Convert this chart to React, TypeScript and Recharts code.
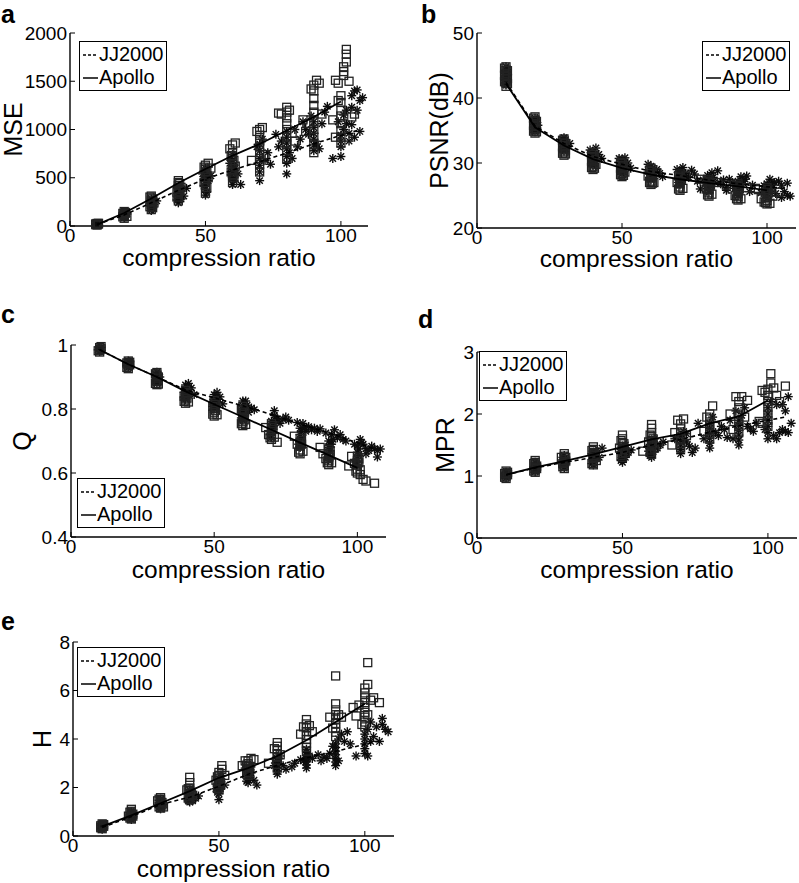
import { ScatterChart, Scatter, XAxis, YAxis, Legend } from "recharts";

type Pt = [number, number];

const FONT = '"Liberation Sans", Arial, Helvetica, sans-serif';

// shared axis values
const ratioDomain: [number, number] = [0, 110];
const ratioTicks = [0, 50, 100];
const seriesNames = ["JJ2000", "Apollo"];

// x positions of the mean curves
const apolloMeanRatio = [10, 20, 30, 40, 50, 60, 70, 80, 90, 100];
const jjMeanRatio = [10, 20, 30, 40, 50, 60, 71, 81, 92, 106];

// ---------- a: MSE ----------
const mseAxis = { domain: [0, 2000] as [number, number], ticks: [0, 500, 1000, 1500, 2000] };
const apolloMeanMSE = [15, 135, 285, 445, 590, 730, 850, 990, 1130, 1290];
const jjMeanMSE = [15, 115, 240, 370, 490, 580, 675, 765, 870, 990];
const apolloMSE: Pt[] = [
  [10, 10], [10, 18], [10, 26], [10.5, 20], [9.5, 14], [10.5, 28], [9.5, 22],
  [20, 80], [20, 110], [20, 130], [20, 150], [21, 100], [19.5, 95], [20.5, 140], [20, 120], [19.5, 130],
  [30, 170], [30, 220], [30, 260], [30, 290], [30, 310], [31, 240], [29.5, 200], [30.5, 280], [29.5, 300], [30.5, 190],
  [40, 260], [40, 330], [40, 380], [40, 420], [40, 450], [41, 400], [40, 470], [39.5, 350], [40.5, 440], [39.5, 300], [40.5, 360],
  [50, 340], [50, 420], [50, 480], [50, 540], [50, 590], [50, 630], [51, 650], [52, 600], [51, 500], [49.5, 450], [50.5, 560], [49.5, 610], [50.5, 400],
  [60, 450], [60, 520], [60, 580], [60, 640], [60, 700], [60, 760], [59, 800], [60, 840], [61, 860], [61, 620], [59.5, 560], [60.5, 680], [59.5, 730], [60.5, 500],
  [70, 560], [70, 640], [70, 700], [70, 760], [70, 820], [70, 880], [70, 940], [70, 1000], [71, 1020], [69, 980], [67, 680], [72, 740],
  [80, 700], [80, 780], [80, 850], [80, 920], [80, 1000], [80, 1060], [80, 1120], [80, 1180], [80, 1230], [78, 1160], [77, 1170], [81, 1200], [82, 960], [83, 880],
  [90, 760], [90, 850], [90, 920], [90, 1000], [90, 1080], [90, 1180], [90, 1250], [90, 1320], [90, 1400], [90, 1460], [91, 1510], [89, 1420], [92, 1480], [88, 1060], [86, 1100], [93, 1160], [87, 980],
  [100, 860], [100, 920], [100, 990], [100, 1060], [100, 1140], [100, 1200], [100, 1280], [100, 1350], [101, 1600], [101, 1650], [102, 1700], [102, 1780], [102, 1830], [101, 1560], [103, 1500], [98, 1510], [99, 1480], [97, 1100], [104, 1130], [105, 1160], [99, 1300], [98, 920],
];
const jjMSE: Pt[] = [
  [10, 15], [10, 22], [10.5, 18], [9.5, 20],
  [20, 85], [20, 110], [20, 140], [21, 125], [20.5, 95], [19.5, 120],
  [30, 160], [30, 200], [30, 240], [30, 280], [31, 220], [32, 260], [30.5, 180], [29.5, 230], [30.5, 270],
  [40, 240], [40, 290], [40, 340], [40, 380], [40, 420], [41, 360], [42, 310], [43, 390], [39.5, 270], [40.5, 320], [39.5, 400], [41, 280],
  [50, 320], [50, 380], [50, 440], [50, 500], [50, 560], [50, 600], [51, 470], [52, 520], [49, 540], [50.5, 350], [49.5, 420], [50.5, 530], [49.5, 480],
  [60, 430], [60, 500], [60, 560], [60, 620], [60, 680], [60, 740], [61, 600], [62, 540], [63, 430], [59, 650], [60.5, 470], [59.5, 530], [60.5, 590], [59.5, 700],
  [70, 470], [70, 560], [70, 630], [70, 700], [70, 780], [70, 850], [71, 900], [72, 680], [73, 760], [74, 640], [69, 820],
  [80, 540], [80, 650], [80, 720], [80, 800], [80, 860], [80, 920], [80, 980], [81, 760], [82, 700], [76, 950], [78, 880], [84, 820], [85, 900], [77, 820], [83, 1000],
  [90, 780], [90, 840], [90, 900], [90, 960], [90, 1020], [90, 1080], [91, 850], [92, 800], [88, 950], [86, 1080], [87, 1000], [93, 1060], [94, 1180], [89, 1140], [95, 1240],
  [97, 700], [100, 720], [100, 820], [100, 880], [100, 940], [101, 1000], [102, 1060], [101, 1150], [103, 960], [104, 1230], [104, 1350], [105, 1400], [106, 1410], [107, 1300], [108, 1330], [106, 1200], [107, 980], [105, 920], [103, 880], [99, 1080], [102, 1200], [104, 1050],
];

// ---------- b: PSNR ----------
const psnrAxis = { domain: [20, 50] as [number, number], ticks: [20, 30, 40, 50] };
const apolloMeanPSNR = [42.2, 35.5, 32.7, 30.6, 29.2, 28.2, 27.5, 26.9, 26.4, 25.8];
const jjMeanPSNR = [42.4, 35.7, 33.0, 31.0, 29.8, 28.7, 28.0, 27.3, 26.7, 26.1];
const apolloPSNR: Pt[] = [
  [10, 41.8], [10, 42.3], [10, 42.8], [10, 43.3], [10, 43.8], [10, 44.3], [10, 44.8], [10.5, 43], [9.5, 42.5], [9.5, 43.5], [10.5, 44.2], [9.5, 44.6], [10.5, 42.2],
  [20, 34.6], [20, 35.1], [20, 35.6], [20, 36.1], [20, 36.6], [20, 37.1], [20.5, 35.3], [19.5, 35.8], [19.5, 34.9], [20.5, 36.4], [19.5, 36.9], [20.5, 34.8],
  [30, 31.2], [30, 31.7], [30, 32.2], [30, 32.7], [30, 33.2], [30, 33.7], [30.5, 32.0], [29.5, 32.5], [29.5, 31.5], [30.5, 33.0], [29.5, 33.5], [30.5, 31.4],
  [40, 29.0], [40, 29.5], [40, 30.0], [40, 30.5], [40, 31.0], [40, 31.6], [41, 29.8], [39.5, 30.3], [39.5, 29.3], [40.5, 30.8], [39.5, 31.3], [40.5, 29.2],
  [50, 27.9], [50, 28.4], [50, 28.9], [50, 29.4], [50, 29.9], [50, 30.4], [51, 28.6], [49.5, 29.2], [49.5, 28.2], [50.5, 29.6], [49.5, 30.1], [50.5, 28.1],
  [60, 26.7], [60, 27.2], [60, 27.7], [60, 28.2], [60, 28.7], [60, 29.2], [61, 27.0], [59, 28.0], [62, 28.5], [59.5, 27.0], [60.5, 28.4], [59.5, 28.9], [60.5, 26.9],
  [70, 25.8], [70, 26.3], [70, 26.8], [70, 27.3], [70, 27.8], [70, 28.3], [71, 26.1], [69, 27.0], [72, 28.0], [69.5, 26.0], [70.5, 27.5], [69.5, 28.0],
  [80, 24.9], [80, 25.4], [80, 25.9], [80, 26.4], [80, 26.9], [80, 27.4], [79, 26.0], [81, 25.2], [77, 27.5], [83, 27.0], [86, 26.6], [79.5, 25.1], [80.5, 26.6], [79.5, 27.1],
  [90, 24.3], [90, 24.8], [90, 25.3], [90, 25.8], [90, 26.3], [90, 26.8], [89, 25.0], [91, 24.5], [88, 26.0], [93, 26.2], [96, 26.1], [89.5, 24.5], [90.5, 26.0], [89.5, 26.5],
  [100, 23.7], [100, 24.2], [100, 24.7], [100, 25.2], [100, 25.7], [100, 26.2], [99, 24.0], [101, 23.8], [98, 24.5], [97, 25.9], [102, 24.9], [104, 25.5], [99.5, 23.9], [100.5, 25.4], [99.5, 25.9],
];
const jjPSNR: Pt[] = [
  [10, 42.0], [10, 42.7], [10, 43.4], [10, 44.1], [10, 44.8], [9.5, 42.3], [10.5, 43.0], [9.5, 43.8], [10.5, 44.4],
  [20, 34.8], [20, 35.5], [20, 36.2], [20, 36.9], [21, 35.8], [19.5, 36.4], [19.5, 35.1], [20.5, 35.2], [20.5, 36.6], [19.5, 35.9],
  [30, 31.8], [30, 32.5], [30, 33.2], [30, 33.9], [31, 32.8], [29.5, 33.6], [32, 33.0], [29.5, 32.1], [30.5, 32.2], [30.5, 33.6], [29.5, 32.9],
  [40, 29.6], [40, 30.3], [40, 31.0], [40, 31.7], [41, 30.6], [42, 31.3], [43, 30.7], [39, 32.0], [41, 32.3], [39.5, 30.0], [40.5, 29.9], [40.5, 31.3], [39.5, 30.7],
  [50, 28.3], [50, 29.0], [50, 29.7], [50, 30.4], [51, 29.4], [52, 30.0], [49, 30.7], [51, 30.8], [53, 29.2], [49.5, 28.7], [50.5, 28.6], [50.5, 30.1], [49.5, 29.4],
  [60, 27.4], [60, 28.1], [60, 28.8], [60, 29.5], [61, 28.4], [62, 29.0], [59, 29.8], [63, 28.4], [64, 27.9], [59.5, 27.8], [60.5, 27.7], [60.5, 29.2], [59.5, 28.5],
  [70, 26.6], [70, 27.3], [70, 28.0], [70, 28.7], [71, 29.3], [72, 28.4], [73, 27.8], [74, 28.9], [75, 28.3], [69, 29.0], [69.5, 27.0], [70.5, 27.6], [70.5, 28.9], [71.5, 28.0],
  [78, 27.4], [79, 26.5], [80, 25.5], [80, 26.2], [80, 27.0], [80, 27.7], [81, 28.5], [82, 27.0], [83, 28.8], [84, 26.8], [85, 27.4], [86, 26.2], [77, 26.0], [76, 27.2], [80.5, 26.6], [79.5, 27.3], [81.5, 27.8], [79.5, 28.1],
  [88, 27.0], [89, 26.1], [90, 25.0], [90, 25.7], [90, 26.4], [90, 27.2], [91, 27.9], [92, 26.8], [93, 28.0], [94, 25.6], [95, 26.6], [87, 27.5], [86, 25.8], [90.5, 26.0], [89.5, 26.8], [91.5, 27.2], [92.5, 27.5],
  [98, 25.4], [99, 26.5], [100, 24.6], [100, 25.3], [100, 26.0], [100, 26.8], [101, 27.5], [102, 26.2], [103, 25.3], [104, 27.2], [105, 26.6], [106, 25.6], [107, 26.9], [108, 24.9], [107, 25.0], [105, 24.7], [100.5, 25.7], [99.5, 26.3], [101.5, 26.9], [102.5, 27.0],
];

// ---------- c: Q ----------
const qAxis = { domain: [0.4, 1] as [number, number], ticks: [0.4, 0.6, 0.8, 1] };
const apolloMeanQ = [0.985, 0.94, 0.9, 0.855, 0.815, 0.775, 0.735, 0.695, 0.656, 0.616];
const jjMeanQ = [0.985, 0.94, 0.9, 0.86, 0.835, 0.81, 0.78, 0.75, 0.72, 0.675];
const apolloQ: Pt[] = [
  [10, 0.978], [10, 0.985], [10, 0.992], [10.5, 0.988], [9.5, 0.982], [10.5, 0.995],
  [20, 0.926], [20, 0.934], [20, 0.942], [20, 0.95], [20.5, 0.938], [19.5, 0.93], [20.5, 0.946], [19.5, 0.944],
  [30, 0.876], [30, 0.886], [30, 0.896], [30, 0.906], [30, 0.914], [30.5, 0.89], [29.5, 0.88], [30.5, 0.9], [29.5, 0.91], [30.5, 0.878],
  [40, 0.818], [40, 0.828], [40, 0.838], [40, 0.848], [40, 0.858], [41, 0.822], [39.5, 0.84], [39.5, 0.824], [40.5, 0.834], [40.5, 0.852],
  [50, 0.778], [50, 0.79], [50, 0.802], [50, 0.814], [50, 0.826], [51, 0.782], [49.5, 0.808], [49.5, 0.784], [50.5, 0.796], [50.5, 0.82],
  [60, 0.748], [60, 0.76], [60, 0.772], [60, 0.784], [60, 0.796], [60, 0.808], [61, 0.752], [59.5, 0.754], [60.5, 0.766], [60.5, 0.79], [59.5, 0.8],
  [70, 0.705], [70, 0.718], [70, 0.73], [70, 0.742], [70, 0.754], [68, 0.742], [72, 0.696], [69, 0.72], [71, 0.712], [69.5, 0.71], [70.5, 0.736], [70.5, 0.748],
  [80, 0.66], [80, 0.672], [80, 0.684], [80, 0.696], [80, 0.708], [78, 0.715], [81, 0.668], [79, 0.69], [79.5, 0.665], [80.5, 0.69], [80.5, 0.702],
  [90, 0.626], [90, 0.638], [90, 0.65], [90, 0.662], [90, 0.674], [87, 0.68], [88, 0.66], [91, 0.632], [89, 0.645], [89.5, 0.632], [90.5, 0.656], [90.5, 0.668],
  [100, 0.6], [100, 0.612], [100, 0.625], [100, 0.638], [100, 0.65], [97, 0.622], [98, 0.652], [99, 0.63], [101, 0.595], [102, 0.58], [103, 0.575], [106, 0.568], [101, 0.61], [99.5, 0.606], [100.5, 0.632], [100.5, 0.644],
];
const jjQ: Pt[] = [
  [10, 0.98], [10, 0.99], [9.5, 0.985], [10.5, 0.982], [10.5, 0.993],
  [20, 0.93], [20, 0.942], [20, 0.95], [19.5, 0.936], [20.5, 0.936], [20.5, 0.948], [19.5, 0.945],
  [30, 0.88], [30, 0.893], [30, 0.906], [30, 0.915], [31, 0.9], [29.5, 0.886], [30.5, 0.886], [30.5, 0.9], [29.5, 0.91], [29.5, 0.898],
  [40, 0.83], [40, 0.845], [40, 0.86], [40, 0.875], [41, 0.852], [42, 0.866], [43, 0.845], [41, 0.88], [39.5, 0.838], [40.5, 0.838], [40.5, 0.868], [39.5, 0.852], [41.5, 0.86],
  [50, 0.8], [50, 0.815], [50, 0.83], [50, 0.845], [51, 0.822], [52, 0.838], [53, 0.816], [51, 0.852], [49.5, 0.808], [50.5, 0.808], [50.5, 0.838], [49.5, 0.822], [51.5, 0.83],
  [60, 0.765], [60, 0.78], [60, 0.795], [60, 0.81], [61, 0.825], [62, 0.79], [63, 0.803], [64, 0.798], [60, 0.825], [59.5, 0.772], [60.5, 0.772], [60.5, 0.802], [59.5, 0.788], [61.5, 0.812],
  [70, 0.71], [70, 0.728], [70, 0.745], [70, 0.762], [71, 0.78], [72, 0.77], [73, 0.755], [74, 0.768], [75, 0.775], [71, 0.795], [76, 0.765], [69.5, 0.72], [70.5, 0.736], [70.5, 0.754], [71.5, 0.764],
  [80, 0.68], [80, 0.7], [80, 0.72], [80, 0.74], [81, 0.755], [82, 0.73], [83, 0.745], [84, 0.735], [85, 0.74], [86, 0.73], [79, 0.758], [87, 0.738], [79.5, 0.69], [80.5, 0.71], [80.5, 0.73], [81.5, 0.742],
  [90, 0.64], [90, 0.66], [90, 0.68], [90, 0.7], [91, 0.72], [92, 0.735], [93, 0.71], [94, 0.72], [95, 0.705], [89, 0.725], [96, 0.7], [91, 0.69], [89.5, 0.65], [90.5, 0.67], [90.5, 0.69], [91.5, 0.705],
  [100, 0.625], [100, 0.645], [100, 0.665], [100, 0.685], [101, 0.705], [102, 0.69], [103, 0.676], [104, 0.67], [105, 0.684], [106, 0.676], [107, 0.67], [108, 0.675], [107, 0.65], [103, 0.66], [99, 0.69], [99.5, 0.635], [100.5, 0.655], [100.5, 0.675], [101.5, 0.695],
];

// ---------- d: MPR ----------
const mprAxis = { domain: [0, 3] as [number, number], ticks: [0, 1, 2, 3] };
const apolloMeanMPR = [1.02, 1.14, 1.24, 1.35, 1.47, 1.59, 1.68, 1.85, 1.96, 2.22];
const jjMeanMPR = [1.02, 1.13, 1.22, 1.3, 1.38, 1.5, 1.6, 1.72, 1.83, 1.95];
const apolloMPR: Pt[] = [
  [10, 0.96], [10, 1.0], [10, 1.04], [10, 1.08], [10.5, 1.02], [9.5, 0.98], [10.5, 1.06], [9.5, 1.04],
  [20, 1.06], [20, 1.1], [20, 1.14], [20, 1.18], [20, 1.22], [20, 1.25], [19.5, 1.08], [20.5, 1.16], [19.5, 1.2], [20.5, 1.12],
  [30, 1.12], [30, 1.17], [30, 1.22], [30, 1.27], [30, 1.32], [30, 1.36], [29, 1.3], [29.5, 1.15], [30.5, 1.24], [30.5, 1.3], [29.5, 1.2],
  [40, 1.18], [40, 1.23], [40, 1.28], [40, 1.33], [40, 1.38], [40, 1.43], [40, 1.47], [41, 1.25], [39.5, 1.2], [40.5, 1.3], [40.5, 1.36], [39.5, 1.41],
  [50, 1.3], [50, 1.36], [50, 1.42], [50, 1.48], [50, 1.54], [50, 1.6], [50, 1.66], [49, 1.45], [51, 1.38], [49.5, 1.33], [50.5, 1.45], [50.5, 1.52], [49.5, 1.57],
  [60, 1.35], [60, 1.42], [60, 1.49], [60, 1.56], [60, 1.63], [60, 1.7], [60, 1.77], [60, 1.83], [57, 1.4], [59, 1.55], [61, 1.45], [59.5, 1.38], [60.5, 1.52], [60.5, 1.6], [59.5, 1.66],
  [70, 1.45], [70, 1.52], [70, 1.6], [70, 1.68], [70, 1.76], [70, 1.84], [71, 1.92], [69, 1.9], [67, 1.5], [72, 1.65], [68, 1.7],
  [80, 1.6], [80, 1.68], [80, 1.76], [80, 1.84], [80, 1.92], [80, 2.0], [81, 2.13], [79, 1.95], [78, 1.72], [82, 1.8],
  [90, 1.7], [90, 1.8], [90, 1.9], [90, 2.0], [90, 2.1], [90, 2.2], [91, 2.28], [89, 2.28], [87, 2.0], [88, 1.75], [92, 1.95], [93, 2.22],
  [100, 1.8], [100, 1.9], [100, 2.0], [100, 2.1], [100, 2.2], [100, 2.3], [100, 2.4], [101, 2.5], [101, 2.65], [99, 2.35], [98, 2.38], [102, 2.42], [103, 2.3], [106, 2.45], [97, 1.88], [98, 1.85], [104, 2.2],
];
const jjMPR: Pt[] = [
  [10, 0.97], [10, 1.02], [10, 1.06], [9.5, 1.0], [10.5, 1.04],
  [20, 1.07], [20, 1.12], [20, 1.17], [20, 1.22], [19.5, 1.1], [20.5, 1.15], [20.5, 1.2],
  [30, 1.13], [30, 1.18], [30, 1.23], [30, 1.28], [30, 1.33], [29.5, 1.16], [30.5, 1.2], [30.5, 1.26], [29.5, 1.3],
  [40, 1.18], [40, 1.23], [40, 1.28], [40, 1.33], [40, 1.38], [42, 1.3], [43, 1.45], [41, 1.4], [39.5, 1.2], [40.5, 1.26], [40.5, 1.31], [39.5, 1.36],
  [50, 1.22], [50, 1.28], [50, 1.34], [50, 1.4], [50, 1.46], [51, 1.3], [52, 1.38], [53, 1.42], [51, 1.5], [49.5, 1.25], [50.5, 1.31], [50.5, 1.37], [49.5, 1.43],
  [60, 1.3], [60, 1.36], [60, 1.42], [60, 1.48], [60, 1.54], [61, 1.6], [62, 1.45], [63, 1.5], [64, 1.55], [59, 1.4], [59.5, 1.33], [60.5, 1.39], [60.5, 1.45], [59.5, 1.51],
  [70, 1.36], [70, 1.43], [70, 1.5], [70, 1.57], [70, 1.64], [71, 1.72], [72, 1.55], [73, 1.48], [74, 1.38], [75, 1.45], [68, 1.6], [72, 1.68],
  [80, 1.45], [80, 1.53], [80, 1.61], [80, 1.69], [80, 1.77], [80, 1.85], [81, 1.95], [82, 1.7], [83, 1.65], [84, 1.8], [85, 1.75], [86, 1.62], [78, 1.6], [76, 1.85],
  [90, 1.5], [90, 1.58], [90, 1.66], [90, 1.74], [90, 1.82], [90, 1.9], [91, 1.98], [92, 2.1], [89, 2.05], [93, 1.8], [94, 1.76], [95, 1.72], [87, 1.9], [88, 1.6],
  [100, 1.6], [100, 1.7], [100, 1.8], [100, 1.9], [100, 2.0], [100, 2.1], [101, 2.2], [102, 1.65], [103, 1.6], [104, 1.7], [105, 1.75], [106, 1.72], [107, 1.7], [108, 1.85], [106, 2.05], [107, 2.28], [105, 2.15], [103, 2.15], [99, 1.75], [96, 1.85],
];

// ---------- e: H ----------
const hAxis = { domain: [0, 8] as [number, number], ticks: [0, 2, 4, 6, 8] };
const apolloMeanH = [0.4, 0.85, 1.35, 1.85, 2.4, 2.8, 3.3, 3.95, 4.7, 5.45];
const jjMeanH = [0.35, 0.8, 1.3, 1.6, 2.05, 2.55, 2.95, 3.25, 3.55, 3.95];
const apolloH: Pt[] = [
  [10, 0.3], [10, 0.37], [10, 0.44], [10, 0.5], [10.5, 0.4], [9.5, 0.34], [10.5, 0.47], [9.5, 0.42],
  [20, 0.7], [20, 0.78], [20, 0.86], [20, 0.94], [20, 1.02], [20, 1.1], [19, 0.82], [19.5, 0.74], [20.5, 0.82], [20.5, 0.9], [19.5, 0.98],
  [30, 1.15], [30, 1.24], [30, 1.33], [30, 1.42], [30, 1.5], [30, 1.58], [31, 1.2], [29, 1.45], [29.5, 1.2], [30.5, 1.28], [30.5, 1.38], [29.5, 1.52],
  [40, 1.5], [40, 1.62], [40, 1.74], [40, 1.86], [40, 1.98], [40, 2.2], [40, 2.42], [39, 1.9], [41, 1.68], [39.5, 1.56], [40.5, 1.7], [40.5, 1.8], [39.5, 1.95],
  [50, 1.9], [50, 2.02], [50, 2.14], [50, 2.26], [50, 2.38], [50, 2.5], [50, 2.62], [51, 2.9], [51, 2.75], [52, 2.5], [49, 2.3], [49.5, 1.96], [50.5, 2.1], [50.5, 2.2], [49.5, 2.44],
  [60, 2.5], [60, 2.62], [60, 2.74], [60, 2.86], [60, 2.98], [60, 3.1], [61, 3.2], [59, 3.1], [62, 3.15], [58, 2.9], [59.5, 2.56], [60.5, 2.7], [60.5, 2.8], [59.5, 2.92],
  [70, 2.8], [70, 2.95], [70, 3.1], [70, 3.25], [70, 3.4], [70, 3.55], [70, 3.7], [70, 3.85], [67, 3.0], [69, 3.6], [71, 3.35],
  [80, 3.5], [80, 3.66], [80, 3.82], [80, 3.98], [80, 4.14], [80, 4.3], [80, 4.46], [80, 4.62], [80, 4.8], [78, 4.2], [79, 4.5], [81, 4.55], [82, 4.3],
  [90, 4.1], [90, 4.28], [90, 4.46], [90, 4.64], [90, 4.82], [90, 5.0], [90, 5.2], [90, 5.45], [88, 4.9], [89, 4.45], [92, 4.9], [91, 5.0], [90, 6.6],
  [100, 4.5], [100, 4.7], [100, 4.9], [100, 5.1], [100, 5.3], [100, 5.5], [100, 5.7], [100, 5.9], [100, 6.1], [101, 6.25], [101, 7.15], [97, 4.95], [98, 5.4], [96, 5.3], [103, 5.7], [105, 5.5], [99, 4.6], [101, 5.0], [102, 5.6],
];
const jjH: Pt[] = [
  [10, 0.28], [10, 0.36], [10, 0.44], [9.5, 0.32], [10.5, 0.4],
  [20, 0.68], [20, 0.76], [20, 0.84], [20, 0.92], [20, 1.0], [19.5, 0.72], [20.5, 0.8], [20.5, 0.88], [19.5, 0.96],
  [30, 1.12], [30, 1.22], [30, 1.32], [30, 1.42], [30, 1.52], [31, 1.3], [29.5, 1.17], [30.5, 1.27], [30.5, 1.37], [29.5, 1.47],
  [40, 1.4], [40, 1.5], [40, 1.6], [40, 1.7], [40, 1.8], [40, 1.9], [42, 1.55], [43, 1.65], [41, 1.45], [39.5, 1.45], [40.5, 1.55], [40.5, 1.65], [39.5, 1.75],
  [50, 1.5], [50, 1.75], [50, 1.88], [50, 2.0], [50, 2.12], [50, 2.24], [50, 2.36], [51, 2.48], [52, 2.1], [49, 1.95], [49.5, 1.8], [50.5, 1.94], [50.5, 2.06], [49.5, 2.18],
  [60, 2.2], [60, 2.33], [60, 2.46], [60, 2.59], [60, 2.72], [61, 2.6], [62, 2.3], [63, 2.1], [59, 2.8], [61, 2.85], [59.5, 2.26], [60.5, 2.4], [60.5, 2.52], [59.5, 2.65],
  [70, 2.55], [70, 2.68], [70, 2.81], [70, 2.94], [70, 3.07], [70, 3.2], [71, 3.3], [72, 2.9], [73, 2.75], [75, 2.85], [76, 3.0], [78, 3.15], [69, 2.9],
  [80, 2.8], [80, 2.93], [80, 3.06], [80, 3.19], [80, 3.32], [80, 3.45], [80, 3.58], [81, 3.3], [82, 3.2], [84, 3.35], [85, 3.1], [86, 3.25], [87, 3.2], [79, 3.1],
  [90, 2.9], [90, 3.05], [90, 3.2], [90, 3.35], [90, 3.5], [90, 3.65], [90, 3.8], [91, 4.0], [92, 4.2], [93, 3.9], [94, 4.3], [95, 3.8], [88, 3.4], [89, 3.7], [91, 3.1],
  [100, 3.4], [100, 3.6], [100, 3.8], [100, 4.0], [100, 4.2], [101, 4.4], [102, 3.9], [103, 4.1], [104, 4.5], [105, 3.9], [106, 4.6], [107, 4.4], [108, 4.3], [106, 4.85], [97, 3.3], [101, 3.3], [102, 4.7],
];

const toPoints = (pts: Pt[]) => pts.map(([x, y]) => ({ x, y }));
const toCurve = (xs: number[], ys: number[]) => xs.map((x, i) => ({ x, y: ys[i] }));

// markers: hollow squares for Apollo, asterisks for JJ2000
const SquareMark = (props: any) => {
  const { cx, cy } = props;
  if (cx == null || cy == null) return <g />;
  return <rect x={cx - 4} y={cy - 4} width={8} height={8} fill="none" stroke="#222" strokeWidth={1.3} />;
};

const StarMark = (props: any) => {
  const { cx, cy } = props;
  if (cx == null || cy == null) return <g />;
  const r = 4.5;
  const d = 3.2;
  return (
    <g stroke="#0d0d0d" strokeWidth={1.4}>
      <line x1={cx - r} y1={cy} x2={cx + r} y2={cy} />
      <line x1={cx} y1={cy - r} x2={cx} y2={cy + r} />
      <line x1={cx - d} y1={cy - d} x2={cx + d} y2={cy + d} />
      <line x1={cx - d} y1={cy + d} x2={cx + d} y2={cy - d} />
    </g>
  );
};

const NoMark = () => <g />;

const panels = [
  {
    letter: "a", yLabel: "MSE", axis: mseAxis,
    apollo: apolloMSE, jj: jjMSE, apolloMean: apolloMeanMSE, jjMean: jjMeanMSE,
    box: { left: 70, top: 33, w: 298, h: 193 }, legend: { left: 79, top: 41 },
    letterPos: { x: 1, y: 23 }, yLabelX: 13.5, xLabelBase: 266,
  },
  {
    letter: "b", yLabel: "PSNR(dB)", axis: psnrAxis,
    apollo: apolloPSNR, jj: jjPSNR, apolloMean: apolloMeanPSNR, jjMean: jjMeanPSNR,
    box: { left: 477, top: 33, w: 319, h: 195 }, legend: { left: 702, top: 41 },
    letterPos: { x: 421, y: 23 }, yLabelX: 439, xLabelBase: 267,
  },
  {
    letter: "c", yLabel: "Q", axis: qAxis,
    apollo: apolloQ, jj: jjQ, apolloMean: apolloMeanQ, jjMean: jjMeanQ,
    box: { left: 71, top: 345, w: 315, h: 192 }, legend: { left: 77, top: 478 },
    letterPos: { x: 1, y: 323 }, yLabelX: 22, xLabelBase: 578,
  },
  {
    letter: "d", yLabel: "MPR", axis: mprAxis,
    apollo: apolloMPR, jj: jjMPR, apolloMean: apolloMeanMPR, jjMean: jjMeanMPR,
    box: { left: 477, top: 352, w: 320, h: 186 }, legend: { left: 479, top: 351 },
    letterPos: { x: 418, y: 328 }, yLabelX: 445, xLabelBase: 578,
  },
  {
    letter: "e", yLabel: "H", axis: hAxis,
    apollo: apolloH, jj: jjH, apolloMean: apolloMeanH, jjMean: jjMeanH,
    box: { left: 73, top: 642, w: 321, h: 194 }, legend: { left: 77, top: 647 },
    letterPos: { x: 1, y: 630 }, yLabelX: 42, xLabelBase: 877,
  },
];

type PanelDef = (typeof panels)[number];

const Y_W = 70;
const X_H = 60;
const TOP_PAD = 10;
const RIGHT_PAD = 3;

function LegendBox() {
  const dashes = ["3 2", undefined];
  return (
    <div
      style={{
        boxSizing: "border-box",
        width: 88,
        height: 50,
        border: "1.5px solid #000",
        background: "#fff",
        padding: "1px 0 0 1px",
        fontSize: 20,
        lineHeight: "23px",
        color: "#000",
        fontFamily: FONT,
      }}
    >
      {seriesNames.map((name, i) => (
        <div key={name} style={{ display: "flex", alignItems: "center", height: 23 }}>
          <svg width={18} height={10} style={{ flex: "none" }}>
            <line x1={2} y1={5} x2={17} y2={5} stroke="#000" strokeWidth={1.5} strokeDasharray={dashes[i]} />
          </svg>
          <span>{name}</span>
        </div>
      ))}
    </div>
  );
}

function Panel({ p }: { p: PanelDef }) {
  const chartLeft = p.box.left - Y_W;
  const chartTop = p.box.top - TOP_PAD;
  const width = Y_W + p.box.w + RIGHT_PAD;
  const height = TOP_PAD + p.box.h + X_H;
  const bottom = p.box.top + p.box.h;
  const tickStyle = { fontSize: 19, fill: "#000" };
  const axisLine = { stroke: "#000", strokeWidth: 1.4 };

  return (
    <div style={{ position: "absolute", left: chartLeft, top: chartTop }}>
      <ScatterChart width={width} height={height} margin={{ top: TOP_PAD, right: RIGHT_PAD, bottom: 0, left: 0 }}>
        <XAxis
          xAxisId="b" type="number" dataKey="x" domain={ratioDomain} ticks={ratioTicks} interval={0}
          height={X_H} stroke="#000" axisLine={axisLine} tickSize={-5} tickMargin={8} tick={tickStyle}
          label={{ value: "compression ratio", position: "insideBottom", offset: bottom + X_H - p.xLabelBase, fontSize: 24.5, fill: "#000" }}
        />
        <XAxis
          xAxisId="t" orientation="top" type="number" dataKey="x" domain={ratioDomain} ticks={ratioTicks} interval={0}
          height={0} stroke="#000" axisLine={axisLine} tickSize={-5} tickFormatter={() => ""}
        />
        <YAxis
          yAxisId="l" type="number" dataKey="y" domain={p.axis.domain} ticks={p.axis.ticks} interval={0}
          width={Y_W} stroke="#000" axisLine={axisLine} tickSize={-5} tickMargin={8} tick={tickStyle}
          label={{ value: p.yLabel, angle: -90, position: "insideLeft", offset: p.yLabelX - chartLeft, fontSize: 25, fill: "#000", style: { textAnchor: "middle" } }}
        />
        <YAxis
          yAxisId="r" orientation="right" type="number" dataKey="y" domain={p.axis.domain} ticks={p.axis.ticks} interval={0}
          width={0} stroke="#000" axisLine={axisLine} tickSize={-5} tickFormatter={() => ""}
        />
        <Scatter name="JJ2000" xAxisId="b" yAxisId="l" data={toPoints(p.jj)} shape={StarMark} fill="#000" isAnimationActive={false} />
        <Scatter name="Apollo" xAxisId="b" yAxisId="l" data={toPoints(p.apollo)} shape={SquareMark} fill="#000" isAnimationActive={false} />
        <Scatter
          name="JJ2000 mean" xAxisId="b" yAxisId="l" data={toCurve(jjMeanRatio, p.jjMean)} shape={NoMark}
          line={{ stroke: "#000", strokeWidth: 1.6, strokeDasharray: "4 3" }} legendType="none" isAnimationActive={false}
        />
        <Scatter
          name="Apollo mean" xAxisId="b" yAxisId="l" data={toCurve(apolloMeanRatio, p.apolloMean)} shape={NoMark}
          line={{ stroke: "#000", strokeWidth: 1.8 }} legendType="none" isAnimationActive={false}
        />
        <Legend
          layout="vertical" align="center" verticalAlign="middle"
          wrapperStyle={{ left: p.legend.left - chartLeft, top: p.legend.top - chartTop, width: 88, height: 50 }}
          content={() => <LegendBox />}
        />
      </ScatterChart>
    </div>
  );
}

export default function App() {
  return (
    <div
      style={{
        position: "absolute", left: 0, top: 0, width: 799, height: 883,
        overflow: "hidden", background: "#fff", fontFamily: FONT,
      }}
    >
      <svg width={799} height={883} style={{ position: "absolute", left: 0, top: 0 }}>
        {panels.map((p) => (
          <text key={p.letter} x={p.letterPos.x} y={p.letterPos.y} fontSize={25} fontWeight="bold" fill="#000" fontFamily={FONT}>
            {p.letter}
          </text>
        ))}
      </svg>
      {panels.map((p) => (
        <Panel key={p.letter} p={p} />
      ))}
    </div>
  );
}
